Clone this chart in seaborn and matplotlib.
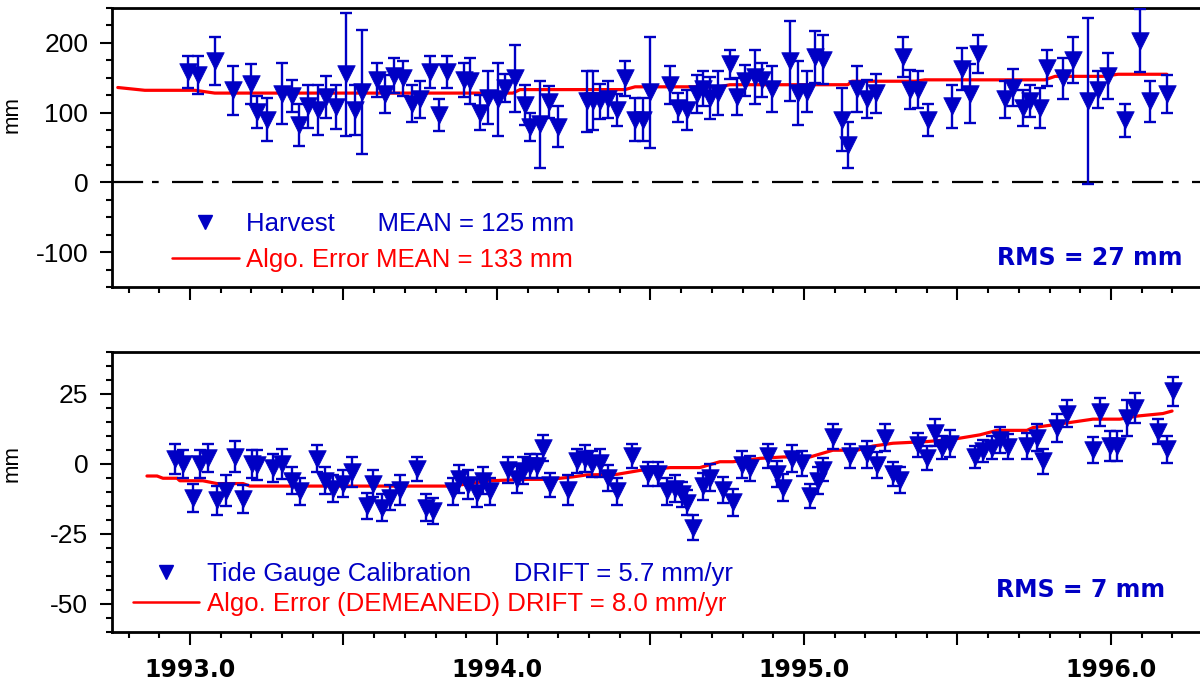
import numpy as np
import pandas as pd
import matplotlib.pyplot as plt
import seaborn as sns
from matplotlib.lines import Line2D
from matplotlib.ticker import MultipleLocator, FixedLocator, FuncFormatter

# harvest comparison (top panel)
harv_year = [1992.993, 1993.026, 1993.081, 1993.140, 1993.199, 1993.218, 1993.251, 1993.300,
             1993.332, 1993.355, 1993.384, 1993.417, 1993.443, 1993.476, 1993.508, 1993.537,
             1993.560, 1993.609, 1993.635, 1993.664, 1993.694, 1993.723, 1993.749, 1993.782,
             1993.811, 1993.837, 1993.893, 1993.912, 1993.945, 1993.971, 1994.003, 1994.026,
             1994.059, 1994.091, 1994.107, 1994.140, 1994.169, 1994.199, 1994.293, 1994.313,
             1994.336, 1994.362, 1994.391, 1994.417, 1994.450, 1994.476, 1994.498, 1994.564,
             1994.590, 1994.619, 1994.651, 1994.671, 1994.694, 1994.720, 1994.759, 1994.782,
             1994.808, 1994.840, 1994.863, 1994.896, 1994.954, 1994.980, 1995.010, 1995.036,
             1995.062, 1995.124, 1995.143, 1995.173, 1995.205, 1995.235, 1995.322, 1995.345,
             1995.371, 1995.404, 1995.482, 1995.515, 1995.541, 1995.567, 1995.655, 1995.681,
             1995.713, 1995.736, 1995.769, 1995.792, 1995.844, 1995.876, 1995.925, 1995.958,
             1995.990, 1996.046, 1996.094, 1996.127, 1996.182]
harv_mm = [158, 154, 174, 132, 141, 101, 90, 127, 124, 82, 109, 104, 123, 108, 155, 104,
           130, 147, 127, 153, 149, 113, 119, 158, 97, 158, 147, 146, 100, 121, 119, 135,
           149, 111, 80, 83, 115, 80, 116, 117, 116, 119, 104, 149, 90, 90, 129, 140,
           107, 104, 127, 134, 121, 128, 169, 123, 146, 151, 147, 134, 174, 128, 130, 180,
           176, 90, 54, 134, 120, 128, 180, 133, 133, 90, 109, 163, 127, 184, 119, 136,
           107, 117, 107, 164, 149, 176, 117, 133, 153, 89, 203, 116, 127]
harv_err = [23, 27, 35, 35, 29, 23, 31, 44, 23, 30, 31, 36, 30, 32, 88, 36,
            89, 24, 27, 25, 25, 27, 26, 23, 23, 23, 24, 33, 25, 38, 52, 20,
            48, 29, 20, 62, 23, 29, 44, 42, 25, 26, 23, 25, 31, 31, 80, 27,
            21, 29, 27, 25, 30, 31, 21, 26, 22, 39, 24, 33, 57, 46, 29, 37,
            35, 45, 33, 33, 27, 28, 29, 28, 26, 23, 31, 30, 42, 27, 26, 27,
            26, 23, 29, 26, 29, 33, 119, 27, 33, 24, 45, 30, 27]
algo_year = [1992.765, 1992.853, 1993.016, 1993.081, 1994.052, 1994.075, 1994.417, 1994.450,
             1994.726, 1994.759, 1995.143, 1995.156, 1995.362, 1995.394, 1995.785, 1995.818,
             1995.974, 1996.023, 1996.182]
algo_mm = [136, 132, 132, 128, 128, 133, 133, 137, 137, 140, 140, 145, 145, 147, 147, 152,
           152, 155, 155]

# tide gauge calibration (bottom panel)
tide_year = [1992.951, 1992.977, 1993.010, 1993.033, 1993.059, 1993.088, 1993.117, 1993.147,
             1993.173, 1993.202, 1993.218, 1993.270, 1993.300, 1993.332, 1993.358, 1993.414,
             1993.440, 1993.466, 1993.498, 1993.528, 1993.577, 1993.596, 1993.625, 1993.651,
             1993.684, 1993.739, 1993.769, 1993.792, 1993.857, 1993.876, 1993.906, 1993.935,
             1993.954, 1993.977, 1994.036, 1994.065, 1994.085, 1994.107, 1994.130, 1994.150,
             1994.173, 1994.231, 1994.261, 1994.287, 1994.309, 1994.336, 1994.362, 1994.391,
             1994.440, 1994.492, 1994.524, 1994.554, 1994.580, 1994.603, 1994.619, 1994.638,
             1994.671, 1994.694, 1994.736, 1994.769, 1994.798, 1994.824, 1994.883, 1994.912,
             1994.932, 1994.961, 1994.993, 1995.020, 1995.046, 1995.062, 1995.094, 1995.150,
             1995.205, 1995.238, 1995.264, 1995.290, 1995.313, 1995.371, 1995.401, 1995.427,
             1995.450, 1995.476, 1995.557, 1995.583, 1995.612, 1995.638, 1995.664, 1995.726,
             1995.759, 1995.779, 1995.824, 1995.857, 1995.941, 1995.964, 1995.997, 1996.020,
             1996.052, 1996.078, 1996.153, 1996.182, 1996.202]
tide_mm = [1.8, 0.0, -12.0, 0.0, 2.0, -13.0, -9.5, 2.6, -12.5, 0.0, -0.4, -1.6, 0.0, -6.0,
           -9.8, 1.8, -6.0, -8.8, -7.0, -2.9, -15.0, -7.0, -15.6, -12.0, -9.3, -1.8, -15.6,
           -16.8, -9.8, -5.3, -7.4, -10.2, -6.0, -9.8, -2.1, -5.4, -2.4, -0.8, -0.7, 5.7,
           -7.4, -9.3, 1.0, 1.8, 0.0, 0.2, -5.0, -9.8, 3.0, -3.5, -3.5, -9.8, -8.8, -10.8,
           -13.8, -22.7, -7.9, -4.9, -9.3, -13.7, -0.2, -1.6, 3.0, -3.6, -8.5, 1.8, 0.2,
           -11.3, -6.0, -2.0, 9.7, 3.0, 3.5, -0.4, 9.4, -3.6, -5.7, 6.8, 2.1, 11.2, 5.8,
           7.3, 2.6, 4.6, 5.8, 8.6, 6.1, 6.4, 9.4, 1.0, 12.9, 18.0, 5.0, 18.6, 6.4, 6.4,
           16.4, 20.0, 11.5, 5.2, 25.9]
tide_err = [5.5, 5.0, 5.0, 5.0, 5.0, 5.2, 5.4, 5.6, 5.0, 5.0, 5.5, 5.0, 5.5, 4.8, 4.9, 4.8,
            4.9, 4.8, 4.9, 5.4, 4.5, 4.9, 4.8, 4.6, 5.3, 4.3, 4.8, 4.8, 4.9, 4.9, 5.2, 5.0,
            4.8, 4.9, 4.6, 4.8, 4.9, 4.3, 4.2, 4.6, 4.3, 5.3, 4.2, 4.8, 4.8, 5.0, 4.6, 4.9,
            4.3, 4.3, 4.3, 4.9, 4.8, 4.5, 4.5, 4.5, 4.8, 4.8, 4.5, 4.9, 4.9, 4.5, 4.3, 4.5,
            4.8, 4.8, 4.5, 4.3, 4.8, 4.0, 4.5, 4.3, 4.8, 4.5, 4.8, 4.3, 4.5, 4.3, 4.3, 4.8,
            4.2, 4.8, 3.9, 4.0, 4.2, 4.6, 4.5, 4.8, 4.8, 4.5, 4.9, 4.8, 4.5, 5.1, 5.4, 5.4,
            6.4, 5.5, 4.5, 4.8, 5.2]
demean_year = [1992.860, 1992.893, 1992.912, 1992.958, 1992.967, 1993.042, 1993.088, 1993.173,
               1993.195, 1993.853, 1993.977, 1994.098, 1994.173, 1994.248, 1994.293, 1994.391,
               1994.466, 1994.564, 1994.661, 1994.726, 1994.769, 1994.857, 1994.932, 1995.020,
               1995.094, 1995.173, 1995.225, 1995.290, 1995.401, 1995.485, 1995.573, 1995.629,
               1995.726, 1995.746, 1995.801, 1995.866, 1995.941, 1996.029, 1996.085, 1996.169,
               1996.199]
demean_mm = [-4.3, -4.3, -5.1, -5.1, -6.0, -6.0, -7.0, -7.0, -7.9, -7.9, -6.0, -5.5, -5.5,
             -4.6, -3.9, -3.7, -2.3, -1.3, -1.3, 0.8, 0.8, 2.0, 2.5, 2.5, 4.9, 4.9, 6.4, 7.4,
             8.0, 8.8, 10.4, 12.0, 12.0, 13.0, 13.8, 14.8, 16.0, 16.0, 17.1, 18.0, 18.9]

year_ticks = [1993.0, 1993.5, 1994.0, 1994.5, 1995.0, 1995.5, 1996.0]

blue = "#0000c4"

sns.set_style("ticks")
plt.rcParams["font.family"] = ["Liberation Sans", "DejaVu Sans"]
plt.rcParams["axes.unicode_minus"] = False
for key in ["text.color", "axes.labelcolor", "xtick.color", "ytick.color"]:
    plt.rcParams[key] = "black"

fig = plt.figure(figsize=(12, 6.83), dpi=100)
ax1 = fig.add_axes([0.0933, 0.5798, 0.9067, 0.4085])
ax2 = fig.add_axes([0.0933, 0.0747, 0.9067, 0.4100])

panels = [
    (ax1, harv_year, harv_mm, harv_err, algo_year, algo_mm),
    (ax2, tide_year, tide_mm, tide_err, demean_year, demean_mm),
]
for ax, xs, ys, es, lx, ly in panels:
    sns.lineplot(x=lx, y=ly, color="red", lw=2.3, estimator=None, sort=False, ax=ax, zorder=2)
    ax.errorbar(xs, ys, yerr=es, fmt="none", ecolor=blue, elinewidth=1.7,
                capsize=4.5, capthick=1.7, zorder=3)
    sns.scatterplot(x=xs, y=ys, marker="v", s=160, color=blue, edgecolor=blue,
                    linewidth=0.5, ax=ax, zorder=4)

    ax.set_xlim(1992.746, 1996.29)
    ax.xaxis.set_major_locator(FixedLocator(year_ticks))
    ax.xaxis.set_minor_locator(MultipleLocator(0.1))
    ax.spines["right"].set_visible(False)
    for s in ["left", "top", "bottom"]:
        ax.spines[s].set_linewidth(2.0)
        ax.spines[s].set_color("black")
    ax.tick_params(which="major", direction="out", length=9, width=1.5, labelsize=19,
                   pad=8, top=False, right=False, colors="black")
    ax.tick_params(which="minor", direction="out", length=4.5, width=1.5, top=False,
                   right=False, colors="black")
    ax.set_xlabel("")
    ax.set_ylabel("mm", fontsize=16, color="black")

# top panel
ax1.set_ylim(-150, 250)
ax1.yaxis.set_major_locator(MultipleLocator(100))
ax1.yaxis.set_minor_locator(MultipleLocator(25))
ax1.tick_params(axis="x", labelbottom=False)
ax1.yaxis.set_label_coords(-0.082, 0.62)
ax1.axhline(0, color="black", lw=1.6, dashes=(14, 4, 3, 6), zorder=1)

# bottom panel
ax2.set_ylim(-60, 40)
ax2.yaxis.set_major_locator(MultipleLocator(25))
ax2.yaxis.set_minor_locator(MultipleLocator(5))
ax2.yaxis.set_label_coords(-0.082, 0.60)
ax2.xaxis.set_major_formatter(FuncFormatter(lambda v, p: f"{v:.1f}" if v == int(v) else ""))
for lab in ax2.get_xticklabels():
    lab.set_fontfamily("DejaVu Sans")
    lab.set_fontweight("bold")
    lab.set_fontsize(17)
ax2.tick_params(axis="x", which="major", pad=10)

# legends
def make_handles():
    return [Line2D([], [], marker="v", ls="none", color=blue, ms=10),
            Line2D([], [], color="red", lw=1.8)]

leg1 = ax1.legend(make_handles(),
                  ["Harvest      MEAN = 125 mm", "Algo. Error MEAN = 133 mm"],
                  loc="upper left", bbox_to_anchor=(0.055, 0.27), frameon=False,
                  fontsize=18.5, handlelength=2.6, handletextpad=0.3, labelspacing=0.48,
                  borderpad=0, borderaxespad=0, labelcolor=[blue, "red"])
leg2 = ax2.legend(make_handles(),
                  ["Tide Gauge Calibration      DRIFT = 5.7 mm/yr",
                   "Algo. Error (DEMEANED) DRIFT = 8.0 mm/yr"],
                  loc="upper left", bbox_to_anchor=(0.019, 0.25), frameon=False,
                  fontsize=18.5, handlelength=2.6, handletextpad=0.3, labelspacing=0.25,
                  borderpad=0, borderaxespad=0, labelcolor=[blue, "red"])

ax1.text(0.984, 0.104, "RMS = 27 mm", transform=ax1.transAxes, ha="right", va="center",
         color=blue, fontsize=17, fontweight="bold", family="DejaVu Sans")
ax2.text(0.968, 0.15, "RMS = 7 mm", transform=ax2.transAxes, ha="right", va="center",
         color=blue, fontsize=17, fontweight="bold", family="DejaVu Sans")

fig.savefig("out.png", dpi=100)
